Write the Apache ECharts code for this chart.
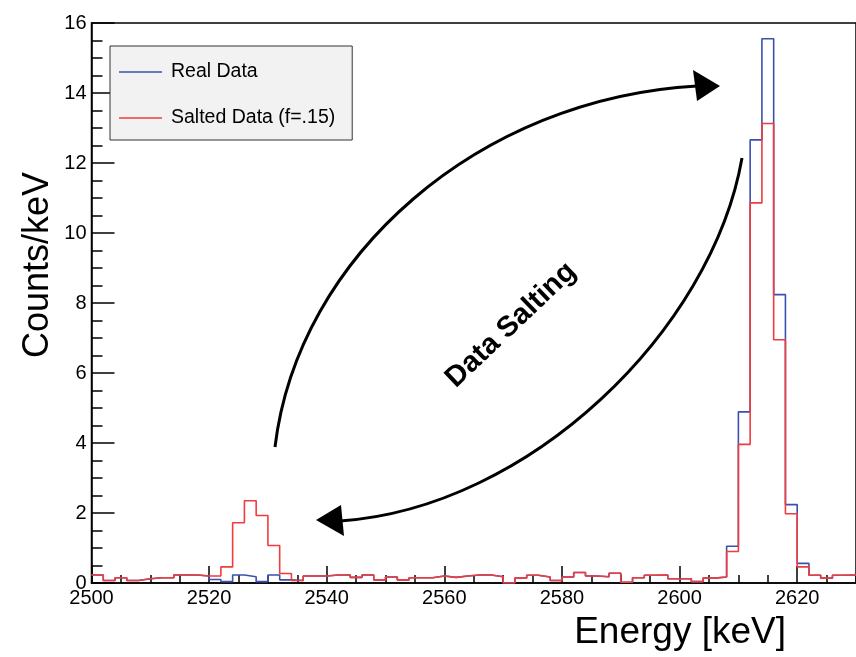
<!DOCTYPE html>
<html>
<head>
<meta charset="utf-8">
<script src="https://cdn.jsdelivr.net/npm/echarts@6/dist/echarts.min.js"></script>
<style>
  html, body { margin: 0; padding: 0; background: #fff; }
  #histChart { width: 856px; height: 657px; }
</style>
</head>
<body>
<div id="histChart"></div>
<script>
// left edge of each 2 keV bin
var binEdges = [2500, 2502, 2504, 2506, 2508, 2510, 2512, 2514, 2516, 2518,
                2520, 2522, 2524, 2526, 2528, 2530, 2532, 2534, 2536, 2538,
                2540, 2542, 2544, 2546, 2548, 2550, 2552, 2554, 2556, 2558,
                2560, 2562, 2564, 2566, 2568, 2570, 2572, 2574, 2576, 2578,
                2580, 2582, 2584, 2586, 2588, 2590, 2592, 2594, 2596, 2598,
                2600, 2602, 2604, 2606, 2608, 2610, 2612, 2614, 2616, 2618,
                2620, 2622, 2624, 2626, 2628]
var lastEdge = 2630

var realData = [0.23, 0.07, 0.15, 0.07, 0.12, 0.15, 0.15, 0.23, 0.23, 0.20,
                0.10, 0.04, 0.23, 0.18, 0.04, 0.23, 0.09, 0.07, 0.20, 0.20,
                0.23, 0.23, 0.16, 0.23, 0.09, 0.17, 0.09, 0.15, 0.15, 0.20,
                0.16, 0.20, 0.23, 0.23, 0.18, 0.00, 0.14, 0.22, 0.17, 0.07,
                0.17, 0.30, 0.20, 0.18, 0.28, 0.02, 0.15, 0.22, 0.23, 0.12,
                0.12, 0.04, 0.14, 0.17, 1.05, 4.89, 12.66, 15.55, 8.24, 2.24,
                0.56, 0.22, 0.14, 0.22, 0.23]

var saltedData = [0.23, 0.07, 0.15, 0.07, 0.12, 0.15, 0.15, 0.23, 0.23, 0.20,
                  0.20, 0.46, 1.72, 2.35, 1.93, 1.07, 0.27, 0.07, 0.20, 0.20,
                  0.23, 0.23, 0.16, 0.23, 0.09, 0.17, 0.09, 0.15, 0.15, 0.20,
                  0.16, 0.20, 0.23, 0.23, 0.18, 0.00, 0.14, 0.22, 0.17, 0.07,
                  0.17, 0.30, 0.20, 0.18, 0.28, 0.02, 0.15, 0.22, 0.23, 0.12,
                  0.12, 0.04, 0.14, 0.17, 0.90, 3.96, 10.86, 13.13, 6.95, 1.98,
                  0.46, 0.22, 0.14, 0.22, 0.23]

var xTicks = [2500, 2520, 2540, 2560, 2580, 2600, 2620]
var yTicks = [0, 2, 4, 6, 8, 10, 12, 14, 16]

var fontName = '"Liberation Sans", Arial, Helvetica, sans-serif'

// histogram as step line: one point per bin edge, last value repeated at the end
function toSteps(values){
    var pts = []
    for(let i=0;i<binEdges.length;i++){
        pts.push([binEdges[i], values[i]])
    }
    pts.push([lastEdge, values[values.length-1]])
    return pts
}

function showChart(){

    option = {
        animation: false,
        grid: {
            left: 91.5,
            top: 23,
            bottom: 74,
            right: -10,
            show: true,
            borderColor: '#000',
            borderWidth: 1.5
        },
        legend: {
            orient: 'vertical',
            left: 110,
            top: 46,
            padding: [16, 17, 12, 9],
            itemGap: 26,
            itemWidth: 43,
            itemHeight: 1.5,
            icon: 'rect',
            backgroundColor: '#f2f2f2',
            borderColor: '#333',
            borderWidth: 1,
            textStyle: {
                fontFamily: fontName,
                fontSize: 19.5,
                color: '#000',
                padding: [0, 0, 0, 4]
            },
            data: ['Real Data', 'Salted Data (f=.15)']
        },
        xAxis: [
            {
                type: 'value',
                min: 2500,
                max: lastEdge,
                interval: xTicks[1] - xTicks[0],
                axisLine: { lineStyle: { color: '#000', width: 1.5 } },
                axisTick: { inside: true, length: 17, lineStyle: { color: '#000', width: 1.5 } },
                axisLabel: {
                    showMaxLabel: false,
                    margin: 5,
                    fontFamily: fontName,
                    fontSize: 20,
                    color: '#000',
                    formatter: function(v){ return String(v) }
                },
                splitLine: { show: false }
            },
            {
                // minor ticks every 5 keV
                type: 'value',
                min: 2500,
                max: lastEdge,
                interval: 5,
                position: 'bottom',
                axisLine: { show: false },
                axisTick: { inside: true, length: 8, lineStyle: { color: '#000', width: 1.5 } },
                axisLabel: { show: false },
                splitLine: { show: false }
            }
        ],
        yAxis: {
            type: 'value',
            min: yTicks[0],
            max: yTicks[yTicks.length-1],
            interval: yTicks[1] - yTicks[0],
            axisLine: { show: true, lineStyle: { color: '#000', width: 1.5 } },
            axisTick: { show: true, inside: true, length: 23, lineStyle: { color: '#000', width: 1.5 } },
            minorTick: { show: true, splitNumber: 4, length: 11, lineStyle: { color: '#000', width: 1.5 } },
            axisLabel: {
                margin: 5,
                fontFamily: fontName,
                fontSize: 20,
                color: '#000'
            },
            splitLine: { show: false }
        },
        graphic: [
            {
                type: 'text',
                x: 786,
                y: 651,
                style: {
                    text: 'Energy [keV]',
                    font: '37px ' + fontName,
                    fill: '#000',
                    textAlign: 'right',
                    textVerticalAlign: 'bottom'
                }
            },
            {
                type: 'text',
                x: 38,
                y: 265,
                rotation: Math.PI / 2,
                style: {
                    text: 'Counts/keV',
                    font: '36px ' + fontName,
                    fill: '#000',
                    textAlign: 'center',
                    textVerticalAlign: 'middle'
                }
            },
            {
                type: 'text',
                x: 511,
                y: 325,
                rotation: 0.76,
                style: {
                    text: 'Data Salting',
                    font: 'bold 29px ' + fontName,
                    fill: '#000',
                    textAlign: 'center',
                    textVerticalAlign: 'middle'
                }
            },
            {
                type: 'bezierCurve',
                shape: { x1: 275, y1: 447, cpx1: 298, cpy1: 255, cpx2: 480, cpy2: 98, x2: 697, y2: 86 },
                style: { stroke: '#000', lineWidth: 3, fill: null }
            },
            {
                type: 'polygon',
                shape: { points: [[720, 86], [693, 70], [697, 101]] },
                style: { fill: '#000' }
            },
            {
                type: 'bezierCurve',
                shape: { x1: 742, y1: 158, cpx1: 712, cpy1: 330, cpx2: 530, cpy2: 508, x2: 340, y2: 521 },
                style: { stroke: '#000', lineWidth: 3, fill: null }
            },
            {
                type: 'polygon',
                shape: { points: [[316, 520], [341, 505], [344, 536]] },
                style: { fill: '#000' }
            }
        ],
        series: [
            {
                name: 'Real Data',
                type: 'line',
                step: 'end',
                symbol: 'none',
                color: '#3c50ad',
                lineStyle: { width: 1.6, color: '#3c50ad' },
                data: toSteps(realData)
            },
            {
                name: 'Salted Data (f=.15)',
                type: 'line',
                step: 'end',
                symbol: 'none',
                color: '#f03c3c',
                lineStyle: { width: 1.6, color: '#f03c3c' },
                data: toSteps(saltedData)
            }
        ]
    };

    var myChart = echarts.init(document.getElementById('histChart'));
    myChart.setOption(option);
}

showChart()
</script>
</body>
</html>
